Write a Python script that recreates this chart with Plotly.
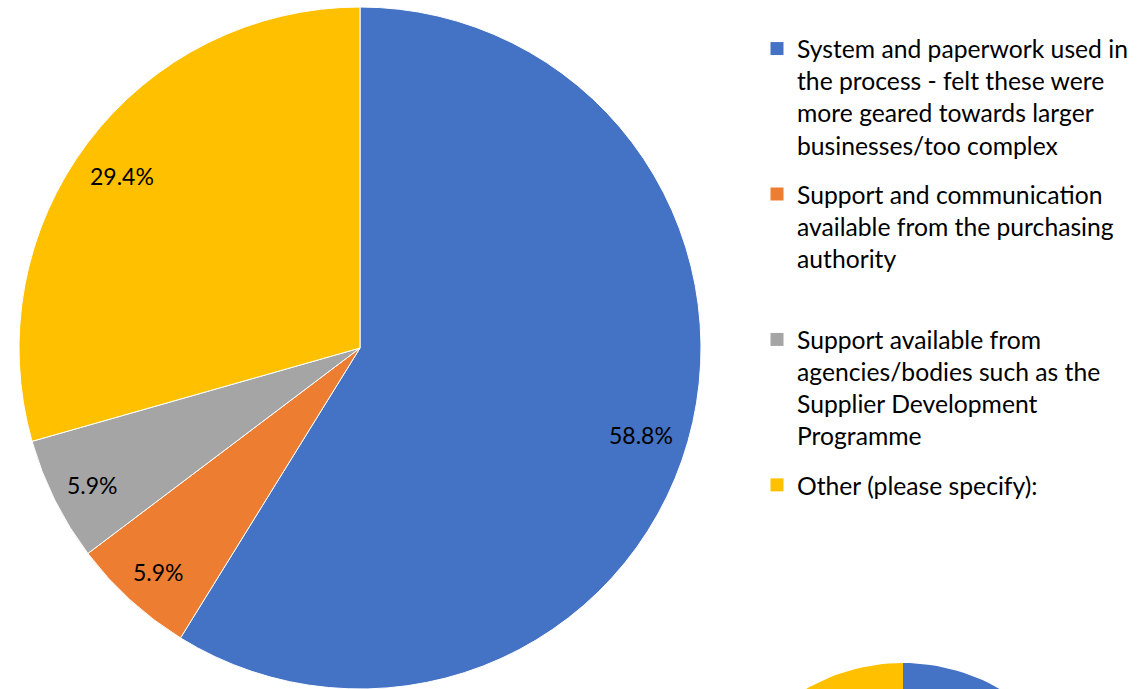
import math
import plotly.graph_objects as go

# ---- data ----
categories = [
    "System and paperwork used in<br>the process - felt these were<br>more geared towards larger<br>businesses/too complex",
    "Support and communication<br>available from the purchasing<br>authority<br> ",
    "Support available from<br>agencies/bodies such as the<br>Supplier Development<br>Programme",
    "Other (please specify):",
]
counts = [10, 1, 1, 5]
colors = ["#4472C4", "#ED7D31", "#A5A5A5", "#FFC000"]
# second (cropped) pie at bottom right – only its top is visible
second_counts = [10, 1, 1, 5]

W, H = 1140, 689
FONT = "Lato"

fig = go.Figure()

# ---- second, mostly cropped pie drawn on a hidden pixel-scaled axis ----
cx2, cy2, r2 = 903, 857, 194
tot2 = sum(second_counts)
start = 0.0
for v, c in zip(second_counts, colors):
    end = start + v / tot2 * 360
    n = max(8, int((end - start) / 2))
    xs, ys = [cx2], [cy2]
    for k in range(n + 1):
        a = math.radians(start + (end - start) * k / n)
        xs.append(cx2 + r2 * math.sin(a))
        ys.append(cy2 - r2 * math.cos(a))
    xs.append(cx2)
    ys.append(cy2)
    fig.add_trace(go.Scatter(x=xs, y=ys, mode="lines", fill="toself", fillcolor=c,
                             line=dict(width=0, color=c), hoverinfo="skip", showlegend=False))
    start = end

# ---- main pie ----
px0, py0, R = 360, 348, 341
fig.add_trace(go.Pie(
    labels=categories, values=counts, sort=False, direction="clockwise", rotation=0,
    marker=dict(colors=colors, line=dict(color="white", width=1)),
    textinfo="none", hoverinfo="label+percent", showlegend=False,
    domain=dict(x=[(px0 - R) / W, (px0 + R) / W], y=[0, 2 * R / H]),
))

# legend entries (one group each so that a gap separates them)
for i, (lab, c) in enumerate(zip(categories, colors)):
    fig.add_trace(go.Scatter(
        x=[None], y=[None], mode="markers", name=lab, legendgroup=f"g{i}",
        marker=dict(symbol="square", size=13, color=c, line=dict(width=0)),
        showlegend=True, hoverinfo="skip",
    ))

# data labels placed along each slice's mid angle
total = sum(counts)
cum = 0.0
annotations = []
for v in counts:
    mid = (cum + v / 2) / total * 2 * math.pi
    cum += v
    f = 0.865
    lx = px0 + f * R * math.sin(mid)
    ly = py0 - f * R * math.cos(mid)
    annotations.append(dict(x=lx / W, y=1 - ly / H, xref="paper", yref="paper",
                            xanchor="center", yanchor="middle", xshift=-3, yshift=-6,
                            text=f"{v / total * 100:.1f}%", showarrow=False,
                            font=dict(family=FONT, size=23, color="black")))

fig.update_layout(
    width=W, height=H,
    margin=dict(l=0, r=0, t=0, b=0),
    paper_bgcolor="white", plot_bgcolor="white",
    xaxis=dict(range=[0, W], visible=False, fixedrange=True),
    yaxis=dict(range=[H, 0], visible=False, fixedrange=True),
    annotations=annotations,
    showlegend=True,
    legend=dict(
        x=(797 - 40) / W, xanchor="left", y=1 - 26 / H, yanchor="top",
        font=dict(family=FONT, size=24.7, color="black"),
        valign="top", traceorder="grouped", tracegroupgap=14,
        bgcolor="rgba(0,0,0,0)",
    ),
)

fig.write_html("out.html", config={"displayModeBar": False},
               post_script="document.body.style.margin='0';document.body.style.overflow='hidden';")
